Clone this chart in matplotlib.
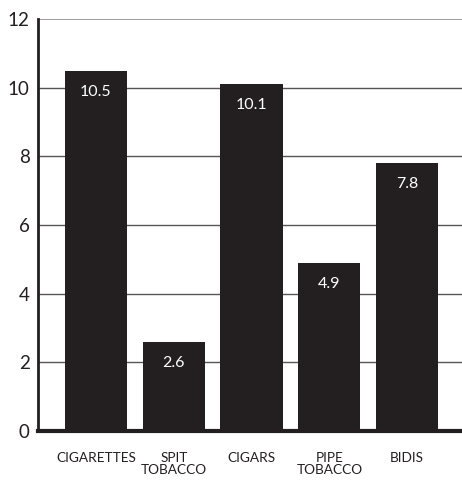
import matplotlib
matplotlib.use("Agg")
import matplotlib.pyplot as plt

# ── Data ──────────────────────────────────────────────────────────────────────
categories = ["CIGARETTES", "SPIT\nTOBACCO", "CIGARS", "PIPE\nTOBACCO", "BIDIS"]
values     = [10.5, 2.6, 10.1, 4.9, 7.8]
y_ticks    = [0, 2, 4, 6, 8, 10, 12]

plt.rcParams["font.family"] = ["Lato", "DejaVu Sans"]

fig = plt.figure(figsize=(4.62, 4.80), dpi=100)
ax = fig.add_axes([0.0823, 0.102, 0.9177, 0.858])

x = list(range(len(categories)))
bars = ax.bar(x, values, width=0.8, color="#231f20", zorder=3)

# horizontal grid lines
for t in y_ticks[1:-1]:
    ax.axhline(t, color="#555555", linewidth=1.0, zorder=1)
ax.axhline(y_ticks[-1], color="#8a8a8a", linewidth=1.2, zorder=1)

# value labels inside bars
for bar, val in zip(bars, values):
    ax.annotate(f"{val:.1f}", (bar.get_x() + bar.get_width() / 2, val),
                xytext=(0, -15), textcoords="offset points",
                ha="center", va="center", color="white", fontsize=11.5, zorder=4)

ax.set_xlim(-0.745, 4.705)
ax.set_ylim(0, 12)
ax.set_yticks(y_ticks)
ax.set_xticks(x)
ax.set_xticklabels(categories, fontsize=9.8, linespacing=1.0)
ax.tick_params(axis="y", length=0, pad=6, labelsize=13.5, colors="#231f20")
ax.tick_params(axis="x", length=0, pad=15, colors="#231f20")

for side in ("top", "right"):
    ax.spines[side].set_visible(False)
ax.spines["left"].set_linewidth(2)
ax.spines["left"].set_color("#231f20")
ax.spines["bottom"].set_linewidth(3)
ax.spines["bottom"].set_color("#231f20")
ax.spines["bottom"].set_zorder(5)

fig.savefig("out.png", dpi=100, facecolor="white")
